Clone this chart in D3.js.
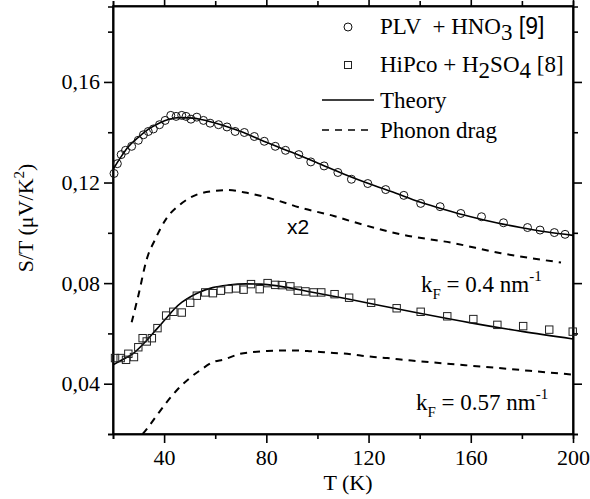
<!DOCTYPE html>
<html><head><meta charset="utf-8">
<script src="https://cdn.jsdelivr.net/npm/d3@7"></script>
<style>
body{margin:0;background:#fff}
svg text{font-family:"Liberation Serif","Times New Roman",serif;fill:#000}
</style>
</head><body>
<svg id="c" width="590" height="499"></svg>
<script>
// ---- data ----
const plvT = [20.4,21.7,23.2,24.9,27.3,29.9,31.9,33.8,35.8,38.2,40.4,42.6,44.7,46.9,48.6,50.5,52.8,55.4,58.0,61.3,64.6,67.8,71.4,75.3,79.2,83.5,87.5,92.7,97.4,102.6,108.0,113.3,119.7,126.7,133.8,140.4,148.0,156.1,164.2,172.8,182.2,187.1,192.7,196.9];
const plvS = [0.1236,0.1275,0.1311,0.1328,0.1344,0.1368,0.1390,0.1403,0.1413,0.1430,0.1447,0.1467,0.1463,0.1467,0.1463,0.1452,0.1460,0.1447,0.1436,0.1430,0.1421,0.1403,0.1399,0.1383,0.1364,0.1344,0.1328,0.1311,0.1282,0.1266,0.1240,0.1213,0.1196,0.1172,0.1149,0.1117,0.1104,0.1077,0.1064,0.1040,0.1021,0.1011,0.1001,0.0994];

const hipT = [20.8,23.0,25.1,26.0,28.2,29.9,31.6,33.2,35.2,37.4,40.8,43.6,46.9,50.2,52.8,56.1,59.1,62.2,65.2,68.2,71.1,74.0,77.4,80.5,83.5,86.1,89.4,92.3,95.3,98.5,101.5,106.7,112.4,121.0,131.0,140.4,150.8,161.0,170.4,180.5,190.7,199.9];
const hipS = [0.0502,0.0502,0.0495,0.0519,0.0506,0.0545,0.0581,0.0568,0.0581,0.0621,0.0671,0.0686,0.0683,0.0722,0.0750,0.0763,0.0760,0.0770,0.0776,0.0779,0.0774,0.0796,0.0776,0.0800,0.0793,0.0792,0.0787,0.0770,0.0767,0.0763,0.0763,0.0756,0.0742,0.0722,0.0700,0.0686,0.0668,0.0657,0.0634,0.0629,0.0615,0.0607];

const theoryUpT = [20,23,26,30,34,38,42,46,50,55,60,65,70,80,90,100,110,120,130,140,150,160,170,180,190,200];
const theoryUpS = [0.1252,0.1300,0.1342,0.1380,0.1413,0.1436,0.1452,0.1458,0.1457,0.1450,0.1437,0.1421,0.1403,0.1360,0.1320,0.1278,0.1235,0.1196,0.1160,0.1123,0.1092,0.1064,0.1040,0.1020,0.1003,0.0990];

const theoryLoT = [20,24,28,33,37,41,44,47,50,54,59,65,72,78,85,98,112,125,140,160,180,200];
const theoryLoS = [0.0475,0.0497,0.0521,0.0570,0.0616,0.0662,0.0697,0.0724,0.0744,0.0765,0.0782,0.0792,0.0797,0.0796,0.0788,0.0764,0.0737,0.0710,0.0680,0.0642,0.0608,0.0578];

const dragUpT = [27.3,29.9,33.2,36.5,41.1,46.3,52.8,59.3,64.6,72.4,82.9,93.3,106.4,114.2,132.5,152.2,171.8,195.3];
const dragUpS = [0.0644,0.0750,0.0895,0.0974,0.1060,0.1113,0.1152,0.1166,0.1170,0.1159,0.1133,0.1100,0.1067,0.1043,0.0994,0.0961,0.0919,0.0882];

const dragLoT = [31.6,33.1,37,40.9,45.5,50.1,54.6,59.2,63.3,69.8,75,80.3,85.5,90.7,96,101.2,106.4,111.6,116.9,122.1,127.3,132.5,139.1,170,200];
const dragLoS = [0.0200,0.0218,0.0272,0.0325,0.0380,0.0423,0.0457,0.0486,0.0496,0.0519,0.0526,0.0530,0.0532,0.0532,0.0530,0.0526,0.0522,0.0519,0.0512,0.0506,0.0502,0.0496,0.0490,0.0463,0.0436];

const xTicks = [40,80,120,160,200];
const xMinor = [20,60,100,140,180];
const yTicks = [0.04,0.08,0.12,0.16];
const yMinor = [0.02,0.06,0.10,0.14,0.18];

// ---- chart ----
const svg = d3.select("#c");
const L=113, R=573, T=6, B=434;
const x = d3.scaleLinear().domain([20,200]).range([L,R]);
const y = d3.scaleLinear().domain([0.02,0.19]).range([B,6.5]);
const fmt = d => d3.format(".2f")(d).replace(".",",");

svg.append("defs").append("clipPath").attr("id","clip")
  .append("rect").attr("x",L).attr("y",T).attr("width",R-L).attr("height",B-T);

function styleAxis(g){
  g.selectAll("path").attr("stroke","#000").attr("stroke-width",1.6);
  g.selectAll("line").attr("stroke","#000").attr("stroke-width",1.6);
  g.selectAll("text").style("font-size","22px").attr("fill","#000")
   .style("font-family",'"Liberation Serif","Times New Roman",serif');
}
// bottom
svg.append("g").attr("transform",`translate(0,${B})`)
  .call(d3.axisBottom(x).tickValues(xMinor).tickSize(5).tickFormat("")).call(styleAxis);
svg.append("g").attr("transform",`translate(0,${B})`)
  .call(d3.axisBottom(x).tickValues(xTicks).tickSize(9).tickPadding(6).tickSizeOuter(0)).call(styleAxis);
// top
svg.append("g").attr("transform",`translate(0,${T})`)
  .call(d3.axisTop(x).tickValues(xMinor).tickSize(5).tickFormat("")).call(styleAxis);
svg.append("g").attr("transform",`translate(0,${T})`)
  .call(d3.axisTop(x).tickValues(xTicks).tickSize(9).tickFormat("").tickSizeOuter(0)).call(styleAxis);
// left
svg.append("g").attr("transform",`translate(${L},0)`)
  .call(d3.axisLeft(y).tickValues(yMinor).tickSize(5).tickFormat("")).call(styleAxis);
svg.append("g").attr("transform",`translate(${L},0)`)
  .call(d3.axisLeft(y).tickValues(yTicks).tickSize(9).tickPadding(4).tickFormat(fmt).tickSizeOuter(0)).call(styleAxis);
// right
svg.append("g").attr("transform",`translate(${R},0)`)
  .call(d3.axisRight(y).tickValues(yMinor).tickSize(5).tickFormat("")).call(styleAxis);
svg.append("g").attr("transform",`translate(${R},0)`)
  .call(d3.axisRight(y).tickValues(yTicks).tickSize(9).tickFormat("").tickSizeOuter(0)).call(styleAxis);
// frame
svg.append("rect").attr("x",L).attr("y",T).attr("width",R-L).attr("height",B-T)
  .attr("fill","none").attr("stroke","#000").attr("stroke-width",1.6);

const plot = svg.append("g").attr("clip-path","url(#clip)");
const line = d3.line().x(d=>x(d[0])).y(d=>y(d[1])).curve(d3.curveMonotoneX);
const zip = (a,b)=>a.map((v,i)=>[v,b[i]]);

plot.append("path").datum(zip(theoryUpT,theoryUpS)).attr("d",line)
  .attr("fill","none").attr("stroke","#000").attr("stroke-width",1.6);
plot.append("path").datum(zip(theoryLoT,theoryLoS)).attr("d",line)
  .attr("fill","none").attr("stroke","#000").attr("stroke-width",1.6);
plot.append("path").datum(zip(dragUpT,dragUpS)).attr("d",line)
  .attr("fill","none").attr("stroke","#000").attr("stroke-width",2).attr("stroke-dasharray","7,6");
plot.append("path").datum(zip(dragLoT,dragLoS)).attr("d",line)
  .attr("fill","none").attr("stroke","#000").attr("stroke-width",2).attr("stroke-dasharray","7,6");

svg.append("g").selectAll("circle").data(zip(plvT,plvS)).join("circle")
  .attr("cx",d=>x(d[0])).attr("cy",d=>y(d[1])).attr("r",4)
  .attr("fill","none").attr("stroke","#111").attr("stroke-width",1);
svg.append("g").selectAll("rect").data(zip(hipT,hipS)).join("rect")
  .attr("x",d=>x(d[0])-3.7).attr("y",d=>y(d[1])-3.7).attr("width",7.4).attr("height",7.4)
  .attr("fill","none").attr("stroke","#222").attr("stroke-width",1);

// legend
const FS = "23px";
const lg = svg.append("g");
lg.append("circle").attr("cx",348).attr("cy",27).attr("r",4).attr("fill","none").attr("stroke","#111");
let t1 = lg.append("text").attr("x",380).attr("y",34).style("font-size",FS).attr("xml:space","preserve");
t1.append("tspan").text("PLV  + HNO");
t1.append("tspan").attr("dy",6).text("3");
t1.append("tspan").attr("dy",-6).style("font-family",'"Liberation Sans",Arial,sans-serif').text(" [9]");
lg.append("rect").attr("x",344.5).attr("y",61.5).attr("width",7).attr("height",7).attr("fill","none").attr("stroke","#222");
let t2 = lg.append("text").attr("x",380).attr("y",72).style("font-size",FS).attr("xml:space","preserve");
t2.append("tspan").text("HiPco + H");
t2.append("tspan").attr("dy",6).text("2");
t2.append("tspan").attr("dy",-6).text("SO");
t2.append("tspan").attr("dy",6).text("4");
t2.append("tspan").attr("dy",-6).text(" [8]");
lg.append("line").attr("x1",322).attr("x2",374).attr("y1",100).attr("y2",100).attr("stroke","#000").attr("stroke-width",1.6);
lg.append("text").attr("x",380).attr("y",108).style("font-size",FS).text("Theory");
lg.append("line").attr("x1",322).attr("x2",374).attr("y1",130).attr("y2",130).attr("stroke","#000").attr("stroke-width",1.6).attr("stroke-dasharray","7,6");
lg.append("text").attr("x",380).attr("y",138).style("font-size",FS).text("Phonon drag");

// annotations
svg.append("text").attr("x",287).attr("y",234).style("font-size","21px")
  .style("font-family",'"Liberation Sans",Arial,sans-serif').text("x2");
function kf(xp,yp,val){
  const t = svg.append("text").attr("x",xp).attr("y",yp).style("font-size",FS).attr("xml:space","preserve");
  t.append("tspan").text("k");
  t.append("tspan").attr("dy",7).style("font-size","15px").text("F");
  t.append("tspan").attr("dy",-7).text(" = "+val+" nm");
  t.append("tspan").attr("dy",-11).style("font-size","15px").text("-1");
}
kf(421,292,"0.4");
kf(416,410,"0.57");

// axis titles
svg.append("text").attr("x",(L+R)/2+5).attr("y",490).attr("text-anchor","middle").style("font-size","22px").text("T (K)");
const yt = svg.append("text").attr("transform","translate(33,218) rotate(-90)").attr("text-anchor","middle").style("font-size","22px");
yt.append("tspan").text("S/T (\u03bcV/K");
yt.append("tspan").attr("dy",-9).style("font-size","15px").text("2");
yt.append("tspan").attr("dy",9).text(")");
</script>
</body></html>
